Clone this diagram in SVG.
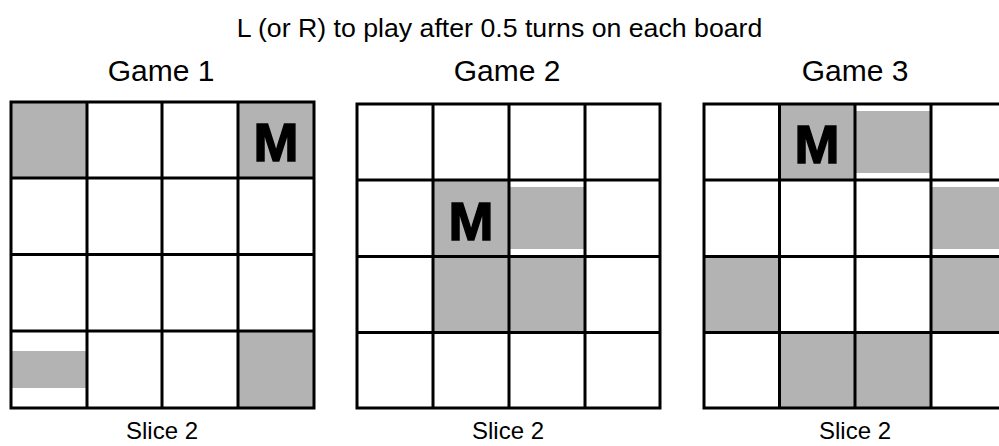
<svg xmlns="http://www.w3.org/2000/svg" width="999" height="446" viewBox="0 0 999 446">
<style>
.t{font-family:"Liberation Sans",Arial,sans-serif;fill:#000}
.title{font-size:26.7px;text-anchor:middle}
.game{font-size:30px;text-anchor:middle}
.slice{font-size:24px;text-anchor:middle}
.m{font-family:"Liberation Sans",Arial,sans-serif;font-weight:bold;font-size:54px;text-anchor:middle;fill:#000;stroke:#000;stroke-width:1.5}
.g{fill:#b3b3b3}
.grid{fill:none;stroke:#000;stroke-width:3}
</style>
<rect width="999" height="446" fill="#fff"/>
<text class="t title" x="499.5" y="37">L (or R) to play after 0.5 turns on each board</text>
<text class="t game" x="161" y="81">Game 1</text>
<text class="t game" x="507" y="81">Game 2</text>
<text class="t game" x="855" y="81">Game 3</text>

<g id="board1">
<rect class="g" x="11" y="102" width="76" height="76"/>
<rect class="g" x="238" y="102" width="76" height="76"/>
<rect class="g" x="238" y="331" width="76" height="77"/>
<rect class="g" x="11" y="351" width="76" height="37"/>
<path class="grid" d="M11,102H314V408H11Z M87,102V408 M162,102V408 M238,102V408 M11,178H314 M11,254.5H314 M11,331H314"/>
<text class="m" x="276" y="161">M</text>
</g>

<g id="board2">
<rect class="g" x="433" y="180" width="76" height="76"/>
<rect class="g" x="433" y="256" width="76" height="77"/>
<rect class="g" x="509" y="256" width="76" height="77"/>
<rect class="g" x="510" y="187" width="74" height="62"/>
<path class="grid" d="M357,104H660V408H357Z M433,104V408 M509,104V408 M585,104V408 M357,180H660 M357,256.5H660 M357,332.5H660"/>
<text class="m" x="471" y="240">M</text>
</g>

<g id="board3">
<rect class="g" x="779" y="104" width="76" height="76"/>
<rect class="g" x="856" y="111" width="74" height="62"/>
<rect class="g" x="932" y="187" width="80" height="62"/>
<rect class="g" x="704" y="256" width="76" height="77"/>
<rect class="g" x="931" y="256" width="80" height="77"/>
<rect class="g" x="779" y="332" width="76" height="76"/>
<rect class="g" x="855" y="332" width="76" height="76"/>
<path class="grid" d="M704,104H1007V408H704Z M779.5,104V408 M855,104V408 M931,104V408 M704,180H1007 M704,256.5H1007 M704,332.5H1007"/>
<text class="m" x="817" y="163">M</text>
</g>

<text class="t slice" x="162" y="439">Slice 2</text>
<text class="t slice" x="508" y="439">Slice 2</text>
<text class="t slice" x="855" y="439">Slice 2</text>
</svg>
